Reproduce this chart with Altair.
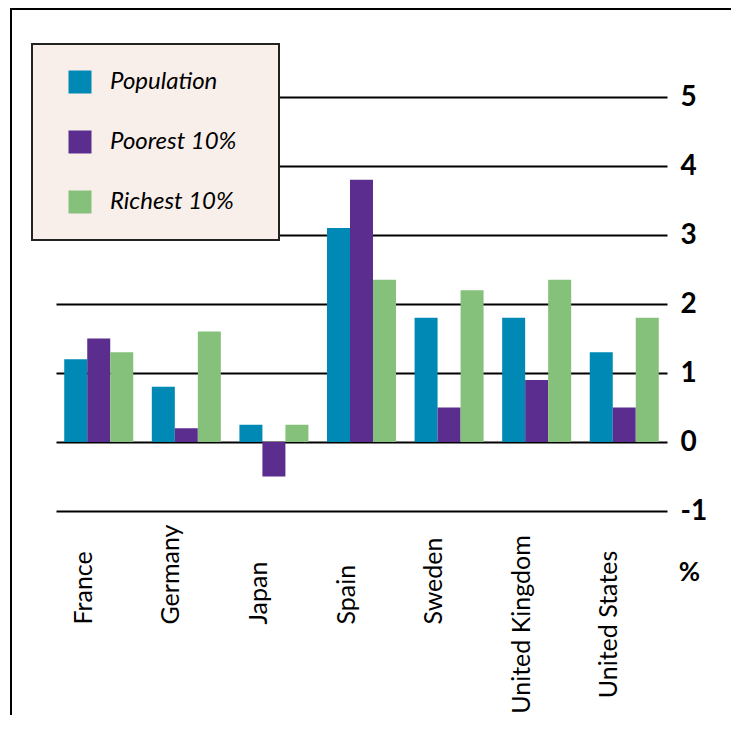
import altair as alt
import pandas as pd

countries = ["France", "Germany", "Japan", "Spain", "Sweden", "United Kingdom", "United States"]
series = ["Population", "Poorest 10%", "Richest 10%"]
population = [1.2, 0.8, 0.25, 3.1, 1.8, 1.8, 1.3]
poorest = [1.5, 0.2, -0.5, 3.8, 0.5, 0.9, 0.5]
richest = [1.3, 1.6, 0.25, 2.35, 2.2, 2.35, 1.8]
y_ticks = [-1, 0, 1, 2, 3, 4, 5]
colors = ["#0089b4", "#5b2d8e", "#85c17b"]

rows = []
for i, c in enumerate(countries):
    for s, vals in zip(series, [population, poorest, richest]):
        rows.append({"country": c, "series": s, "value": vals[i]})
df = pd.DataFrame(rows)

W, H = 611, 414

frame = alt.Chart(alt.Data(values=[{"f": 1}])).mark_rect(
    fillOpacity=0, stroke="black", strokeWidth=2
).encode(
    x=alt.value(-45), x2=alt.value(800), y=alt.value(-88), y2=alt.value(800)
)

bars = alt.Chart(df).mark_bar().encode(
    x=alt.X(
        "country:N", sort=countries,
        scale=alt.Scale(paddingInner=0.212, paddingOuter=0.094),
        axis=alt.Axis(
            title=None, domain=False, ticks=False, grid=False,
            labelAngle=270,
            labelAlign={"condition": {"test": "datum.value == 'United Kingdom' || datum.value == 'United States'", "value": "center"}, "value": "left"},
            labelPadding=113, labelOffset=-15,
            labelFont="Lato", labelFontSize=25, labelColor="black",
            labelOverlap=False, labelLimit=400,
        ),
    ),
    xOffset=alt.XOffset("series:N", sort=series, scale=alt.Scale(paddingInner=0, paddingOuter=0)),
    y=alt.Y(
        "value:Q", stack=None,
        scale=alt.Scale(domain=[-1, 5], nice=False, zero=False),
        axis=alt.Axis(
            orient="right", values=y_ticks, domain=False, ticks=False,
            grid=True, gridColor="black", gridWidth=2, gridOpacity=1,
            labelFont="Lato", labelFontSize=28, labelFontWeight="bold", labelColor="black",
            labelPadding=13, labelExpr="'' + datum.value",
            title="%", titleAngle=0, titleX=22, titleY=475,
            titleFont="Lato", titleFontSize=26, titleFontWeight="bold",
            titleAlign="center", titleBaseline="middle", titleColor="black",
        ),
    ),
    y2=alt.datum(0),
    color=alt.Color(
        "series:N", sort=series,
        scale=alt.Scale(domain=series, range=colors),
        legend=alt.Legend(
            orient="none", legendX=-24, legendY=-53,
            title="\u00a0", titleOrient="right", titlePadding=17,
            fillColor="#f9efea", strokeColor="#222222", padding=26,
            symbolType="square", symbolSize=529, symbolStrokeWidth=0, symbolOffset=10,
            labelOffset=18, labelFont="Lato", labelFontSize=24, labelFontStyle="italic",
            labelColor="black", rowPadding=36, labelLimit=300,
        ),
    ),
)

chart = alt.layer(frame, bars).properties(
    width=W, height=H,
    autosize=alt.AutoSizeParams(type="none"),
    padding={"left": 48, "top": 89, "right": 723 - 48 - W, "bottom": 707 - 89 - H},
    background="white",
).configure_view(strokeWidth=0).configure_legend(strokeWidth=2)

chart.save("out.html", embed_options={"renderer": "svg", "actions": False})
